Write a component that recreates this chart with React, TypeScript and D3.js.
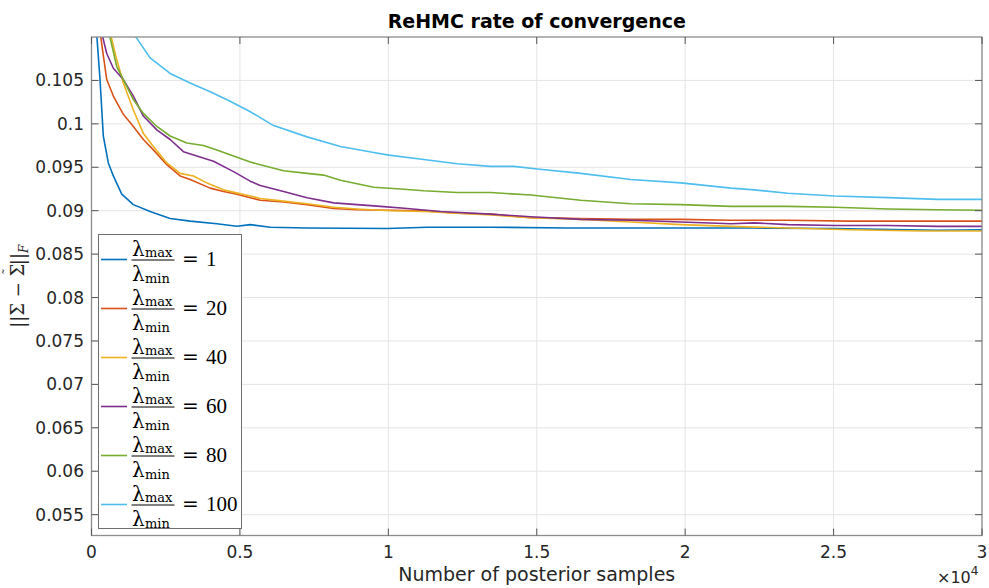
import React from "react";
import * as d3 from "d3";

const W = 989;
const H = 588;

const xTicks = [0, 5000, 10000, 15000, 20000, 25000, 30000];
const xTickLabels = ["0", "0.5", "1", "1.5", "2", "2.5", "3"];
const yTicks = [0.055, 0.06, 0.065, 0.07, 0.075, 0.08, 0.085, 0.09, 0.095, 0.1, 0.105];
const yTickLabels = ["0.055", "0.06", "0.065", "0.07", "0.075", "0.08", "0.085", "0.09", "0.095", "0.1", "0.105"];

const ratios = ["1", "20", "40", "60", "80", "100"];
const colors = ["#0072BD", "#D95319", "#EDB120", "#7E2F8E", "#77AC30", "#4DBEEE"];

const x1 = [150, 287, 398, 567, 736, 1019, 1410, 1974, 2649, 3324, 4224, 4899, 5348, 6023, 7261, 9960, 11310, 13446, 16000, 19000, 21550, 22300, 25000, 28500, 30000];
const y1 = [0.1115, 0.1051, 0.0986, 0.0955, 0.094, 0.0919, 0.0907, 0.0899, 0.0891, 0.0888, 0.0885, 0.0882, 0.0884, 0.0881, 0.088, 0.08795, 0.0881, 0.0881, 0.088, 0.088, 0.088, 0.088, 0.08795, 0.08775, 0.0878];

const x20 = [250, 513, 736, 1073, 1410, 1747, 2085, 2537, 2986, 3323, 3998, 4447, 4899, 5348, 5685, 6471, 7261, 8159, 8948, 10071, 11195, 12322, 13446, 14796, 16482, 18169, 19856, 21543, 23456, 25500, 28000, 30000];
const y20 = [0.1115, 0.1051, 0.1032, 0.1011, 0.0997, 0.0982, 0.097, 0.0953, 0.094, 0.0936, 0.0926, 0.0922, 0.0919, 0.0915, 0.0912, 0.091, 0.0907, 0.09025, 0.0901, 0.09005, 0.09, 0.0897, 0.0896, 0.0892, 0.0891, 0.089, 0.089, 0.0889, 0.0889, 0.0888, 0.0888, 0.0888];

const x40 = [560, 850, 1073, 1410, 1747, 2085, 2537, 2986, 3435, 3887, 4447, 5348, 5685, 6471, 7261, 8159, 8948, 10071, 11195, 12322, 13446, 14796, 16482, 18169, 19856, 21543, 23456, 25500, 28000, 30000];
const y40 = [0.1115, 0.1074, 0.1047, 0.1016, 0.0989, 0.0974, 0.0955, 0.0943, 0.094, 0.0932, 0.0924, 0.0917, 0.0914, 0.0911, 0.0908, 0.0904, 0.0902, 0.09, 0.0899, 0.0897, 0.0895, 0.0892, 0.089, 0.0887, 0.0884, 0.0882, 0.088, 0.0878, 0.08767, 0.08767];

const x60 = [200, 513, 736, 1073, 1410, 1747, 2200, 2649, 3097, 3549, 4110, 4784, 5348, 5685, 6471, 7261, 8159, 8948, 9734, 10635, 11759, 13446, 14796, 16482, 18169, 19856, 21543, 22329, 23456, 25029, 26830, 28517, 30000];
const y60 = [0.1125, 0.1081, 0.1064, 0.1051, 0.1032, 0.1009, 0.0993, 0.0982, 0.0968, 0.0963, 0.0957, 0.0945, 0.0934, 0.0929, 0.0922, 0.0915, 0.0909, 0.0907, 0.0905, 0.09025, 0.0899, 0.0896, 0.0893, 0.089, 0.0889, 0.0887, 0.0885, 0.0886, 0.0884, 0.0883, 0.0883, 0.0882, 0.0882];

const x80 = [520, 850, 1073, 1410, 1747, 2200, 2649, 3212, 3772, 4224, 4784, 5348, 5685, 6471, 7261, 7821, 8385, 9508, 10409, 11195, 12322, 13446, 14796, 16482, 18169, 19856, 21543, 23456, 25029, 26830, 28500, 30000];
const y80 = [0.1115, 0.1066, 0.1051, 0.1028, 0.1012, 0.0997, 0.0986, 0.0978, 0.0975, 0.097, 0.0963, 0.0956, 0.0953, 0.0946, 0.0943, 0.0941, 0.0935, 0.0927, 0.0925, 0.0923, 0.0921, 0.0921, 0.0918, 0.0912, 0.0908, 0.0907, 0.0905, 0.0905, 0.0904, 0.0902, 0.0901, 0.09005];

const x100 = [1200, 1974, 2649, 3323, 3998, 4673, 5348, 6134, 7261, 8385, 9508, 10014, 11195, 12322, 13446, 14231, 15020, 16482, 18169, 19856, 21543, 22329, 23456, 25029, 26830, 28517, 30000];
const y100 = [0.1115, 0.1076, 0.1058, 0.1047, 0.1037, 0.1026, 0.1014, 0.0998, 0.0985, 0.0974, 0.0967, 0.0964, 0.0959, 0.0954, 0.0951, 0.0951, 0.0948, 0.0943, 0.0936, 0.0932, 0.0926, 0.0924, 0.092, 0.0917, 0.0915, 0.0913, 0.0913];

const seriesX = [x1, x20, x40, x60, x80, x100];
const seriesY = [y1, y20, y40, y60, y80, y100];

const L = 91.5, R = 982, T = 37, B = 535.5;

export default function App() {
  const xs = d3.scaleLinear().domain([0, 30000]).range([L, R]);
  const ys = d3.scaleLinear().domain([0.0526, 0.11]).range([B, T]);
  const line = d3.line<[number, number]>().x(d => xs(d[0])).y(d => ys(d[1]));
  const tickFont = "'DejaVu Sans', sans-serif";
  const serif = "'DejaVu Serif', serif";
  const legX0 = 98.5, legX1 = 241.5, legY0 = 234.5, legY1 = 528.5;
  const rowY = (i: number) => 259.5 + i * 49;
  return (
    <svg width={W} height={H} style={{ position: "fixed", left: 0, top: 0, background: "#fff" }}>
      <defs>
        <clipPath id="plotclip"><rect x={L} y={T} width={R - L} height={B - T} /></clipPath>
      </defs>
      <rect x={0} y={0} width={W} height={H} fill="#fff" />
      {xTicks.map((t, i) => (
        <line key={"gx" + i} x1={xs(t)} x2={xs(t)} y1={T} y2={B} stroke="#e5e5e5" strokeWidth={1} />
      ))}
      {yTicks.map((t, i) => (
        <line key={"gy" + i} x1={L} x2={R} y1={ys(t)} y2={ys(t)} stroke="#e5e5e5" strokeWidth={1} />
      ))}
      <g clipPath="url(#plotclip)">
        {seriesX.map((sx, i) => (
          <path key={"s" + i} d={line(sx.map((v, j) => [v, seriesY[i][j]]) as [number, number][]) || ""}
            fill="none" stroke={colors[i]} strokeWidth={1.6} strokeLinejoin="round" />
        ))}
      </g>
      <rect x={L} y={T} width={R - L} height={B - T} fill="none" stroke="#8c8c8c" strokeWidth={1.3} />
      {xTicks.map((t, i) => (
        <g key={"tx" + i}>
          <line x1={xs(t)} x2={xs(t)} y1={B} y2={B - 7} stroke="#555" strokeWidth={1} />
          <line x1={xs(t)} x2={xs(t)} y1={T} y2={T + 7} stroke="#555" strokeWidth={1} />
          <text x={xs(t)} y={558} textAnchor="middle" fontFamily={tickFont} fontSize={17} fill="#262626">{xTickLabels[i]}</text>
        </g>
      ))}
      {yTicks.map((t, i) => (
        <g key={"ty" + i}>
          <line x1={L} x2={L + 7} y1={ys(t)} y2={ys(t)} stroke="#555" strokeWidth={1} />
          <line x1={R} x2={R - 7} y1={ys(t)} y2={ys(t)} stroke="#555" strokeWidth={1} />
          <text x={84} y={ys(t) + 6} textAnchor="end" fontFamily={tickFont} fontSize={17} fill="#262626">{yTickLabels[i]}</text>
        </g>
      ))}
      <text x={937} y={583} fontFamily={tickFont} fontSize={16} fill="#262626">
        ×10<tspan fontSize={12} dy={-8}>4</tspan>
      </text>
      <text x={(L + R) / 2} y={28} textAnchor="middle" fontFamily={tickFont} fontWeight="bold" fontSize={19} fill="#000">ReHMC rate of convergence</text>
      <text x={(L + R) / 2} y={581} textAnchor="middle" fontFamily={tickFont} fontSize={19} fill="#262626">Number of posterior samples</text>
      <g transform={`translate(24,${(T + B) / 2}) rotate(-90)`}>
        <text x={0} y={0} textAnchor="middle" fontFamily={serif} fontSize={18} fill="#262626">
          ||Σ − Σ<tspan dx={-11} dy={-12} fontSize={13}>˜</tspan><tspan dx={3} dy={12}>||</tspan><tspan fontSize={12} fontStyle="italic" dy={4}>F</tspan>
        </text>
      </g>
      <rect x={legX0} y={legY0} width={legX1 - legX0} height={legY1 - legY0} fill="#fff" stroke="#6e6e6e" strokeWidth={1} />
      {ratios.map((r, i) => {
        const cy = rowY(i);
        return (
          <g key={"leg" + i}>
            <line x1={101} x2={127} y1={cy} y2={cy} stroke={colors[i]} strokeWidth={1.6} />
            <text x={132} y={cy - 4} fontFamily={serif} fontSize={20} fill="#000">λ</text>
            <text x={145} y={cy - 3} fontFamily={serif} fontSize={13} fill="#000">max</text>
            <line x1={131.5} x2={174.5} y1={cy + 0.5} y2={cy + 0.5} stroke="#000" strokeWidth={1} />
            <text x={132} y={cy + 21} fontFamily={serif} fontSize={20} fill="#000">λ</text>
            <text x={145} y={cy + 23} fontFamily={serif} fontSize={13} fill="#000">min</text>
            <text x={182} y={cy + 6} fontFamily={serif} fontSize={20} fill="#000">=</text>
            <text x={206} y={cy + 6} fontFamily="'Liberation Serif', serif" fontSize={21} fill="#000">{r}</text>
          </g>
        );
      })}
    </svg>
  );
}
